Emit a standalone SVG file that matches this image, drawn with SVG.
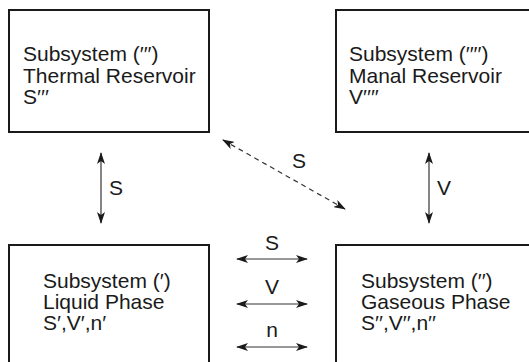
<svg xmlns="http://www.w3.org/2000/svg" width="529" height="362" viewBox="0 0 529 362">
<defs>
<style>
.box{fill:#fff;stroke:#1a1a1a;stroke-width:2}
.t{font-family:"Liberation Sans",Arial,sans-serif;font-size:21px;fill:#1a1a1a}
.c{stroke:#333;stroke-width:1.2;fill:none}
.d{stroke-dasharray:5 4}
</style>
<marker id="ah" viewBox="0 0 12 8" refX="11" refY="4" markerWidth="12" markerHeight="8" markerUnits="userSpaceOnUse" orient="auto-start-reverse">
<path d="M0,0 L12,4 L0,8 L3,4 Z" fill="#1a1a1a"/>
</marker>
</defs>
<rect width="529" height="362" fill="#fff"/>
<g id="thermal">
<rect class="box" x="9" y="10" width="200" height="122"/>
<text class="t" x="23" y="61">Subsystem (′′′)</text>
<text class="t" x="23" y="83">Thermal Reservoir</text>
<text class="t" x="23" y="104">S′′′</text>
</g>
<g id="manal">
<rect class="box" x="336" y="10" width="200" height="122"/>
<text class="t" x="349" y="61">Subsystem (′′′′)</text>
<text class="t" x="349" y="83">Manal Reservoir</text>
<text class="t" x="349" y="104">V′′′′</text>
</g>
<g id="liquid">
<rect class="box" x="9" y="245" width="200" height="130"/>
<text class="t" x="43" y="288">Subsystem (′)</text>
<text class="t" x="43" y="309">Liquid Phase</text>
<text class="t" x="43" y="330">S′,V′,n′</text>
</g>
<g id="gaseous">
<rect class="box" x="336" y="245" width="200" height="130"/>
<text class="t" x="361" y="288">Subsystem (′′)</text>
<text class="t" x="361" y="309">Gaseous Phase</text>
<text class="t" x="361" y="330">S′′,V′′,n′′</text>
</g>
<g id="connectors">
<line class="c" x1="101" y1="153" x2="101" y2="223" marker-start="url(#ah)" marker-end="url(#ah)"/>
<text class="t" x="109" y="195">S</text>
<line class="c" x1="429" y1="153" x2="429" y2="223" marker-start="url(#ah)" marker-end="url(#ah)"/>
<text class="t" x="437" y="195">V</text>
<line class="c d" x1="223" y1="140" x2="345" y2="209" marker-start="url(#ah)" marker-end="url(#ah)"/>
<text class="t" x="292" y="168">S</text>
<line class="c" x1="237" y1="259" x2="307" y2="259" marker-start="url(#ah)" marker-end="url(#ah)"/>
<text class="t" x="272" y="250" text-anchor="middle">S</text>
<line class="c" x1="237" y1="304" x2="307" y2="304" marker-start="url(#ah)" marker-end="url(#ah)"/>
<text class="t" x="272" y="294" text-anchor="middle">V</text>
<line class="c" x1="237" y1="347" x2="307" y2="347" marker-start="url(#ah)" marker-end="url(#ah)"/>
<text class="t" x="272" y="337" text-anchor="middle">n</text>
</g>
</svg>
